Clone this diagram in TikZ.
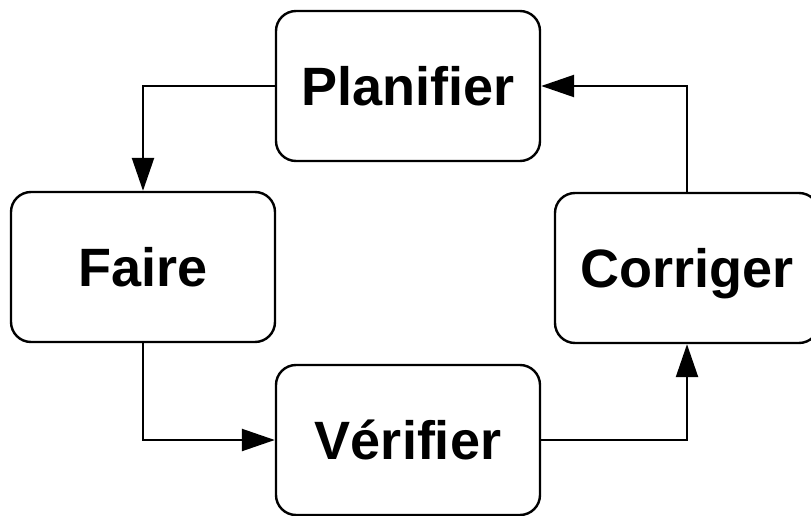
\documentclass[tikz,border=0pt]{standalone}
\usepackage{fontspec}
\setmainfont{Liberation Sans}
\usetikzlibrary{arrows.meta}
\begin{document}
\begin{tikzpicture}[x=1pt,y=-1pt,
  stage/.style={draw, line width=2.4pt, rounded corners=20pt,
    minimum width=264pt, minimum height=150pt, inner sep=0pt,
    font=\fontsize{54}{60}\selectfont\bfseries,
    text height=39pt, text depth=0pt},
  flow/.style={line width=2.4pt, -{Triangle[length=33pt,width=22pt]}}]
\useasboundingbox (0,0) rectangle (811,516);
% the four stages of the cycle
\node[stage] (plan)  at (408,86)  {Planifier};
\node[stage] (faire) at (143,267) {Faire};
\node[stage] (corr)  at (687,268) {Corriger};
\node[stage] (verif) at (408,440) {Vérifier};
% connectors around the loop
\draw[flow] (plan.west) -| (faire.north);
\draw[flow] (faire.south) |- (verif.west);
\draw[flow] (verif.east) -| (corr.south);
\draw[flow] (corr.north) |- (plan.east);
\end{tikzpicture}
\end{document}
